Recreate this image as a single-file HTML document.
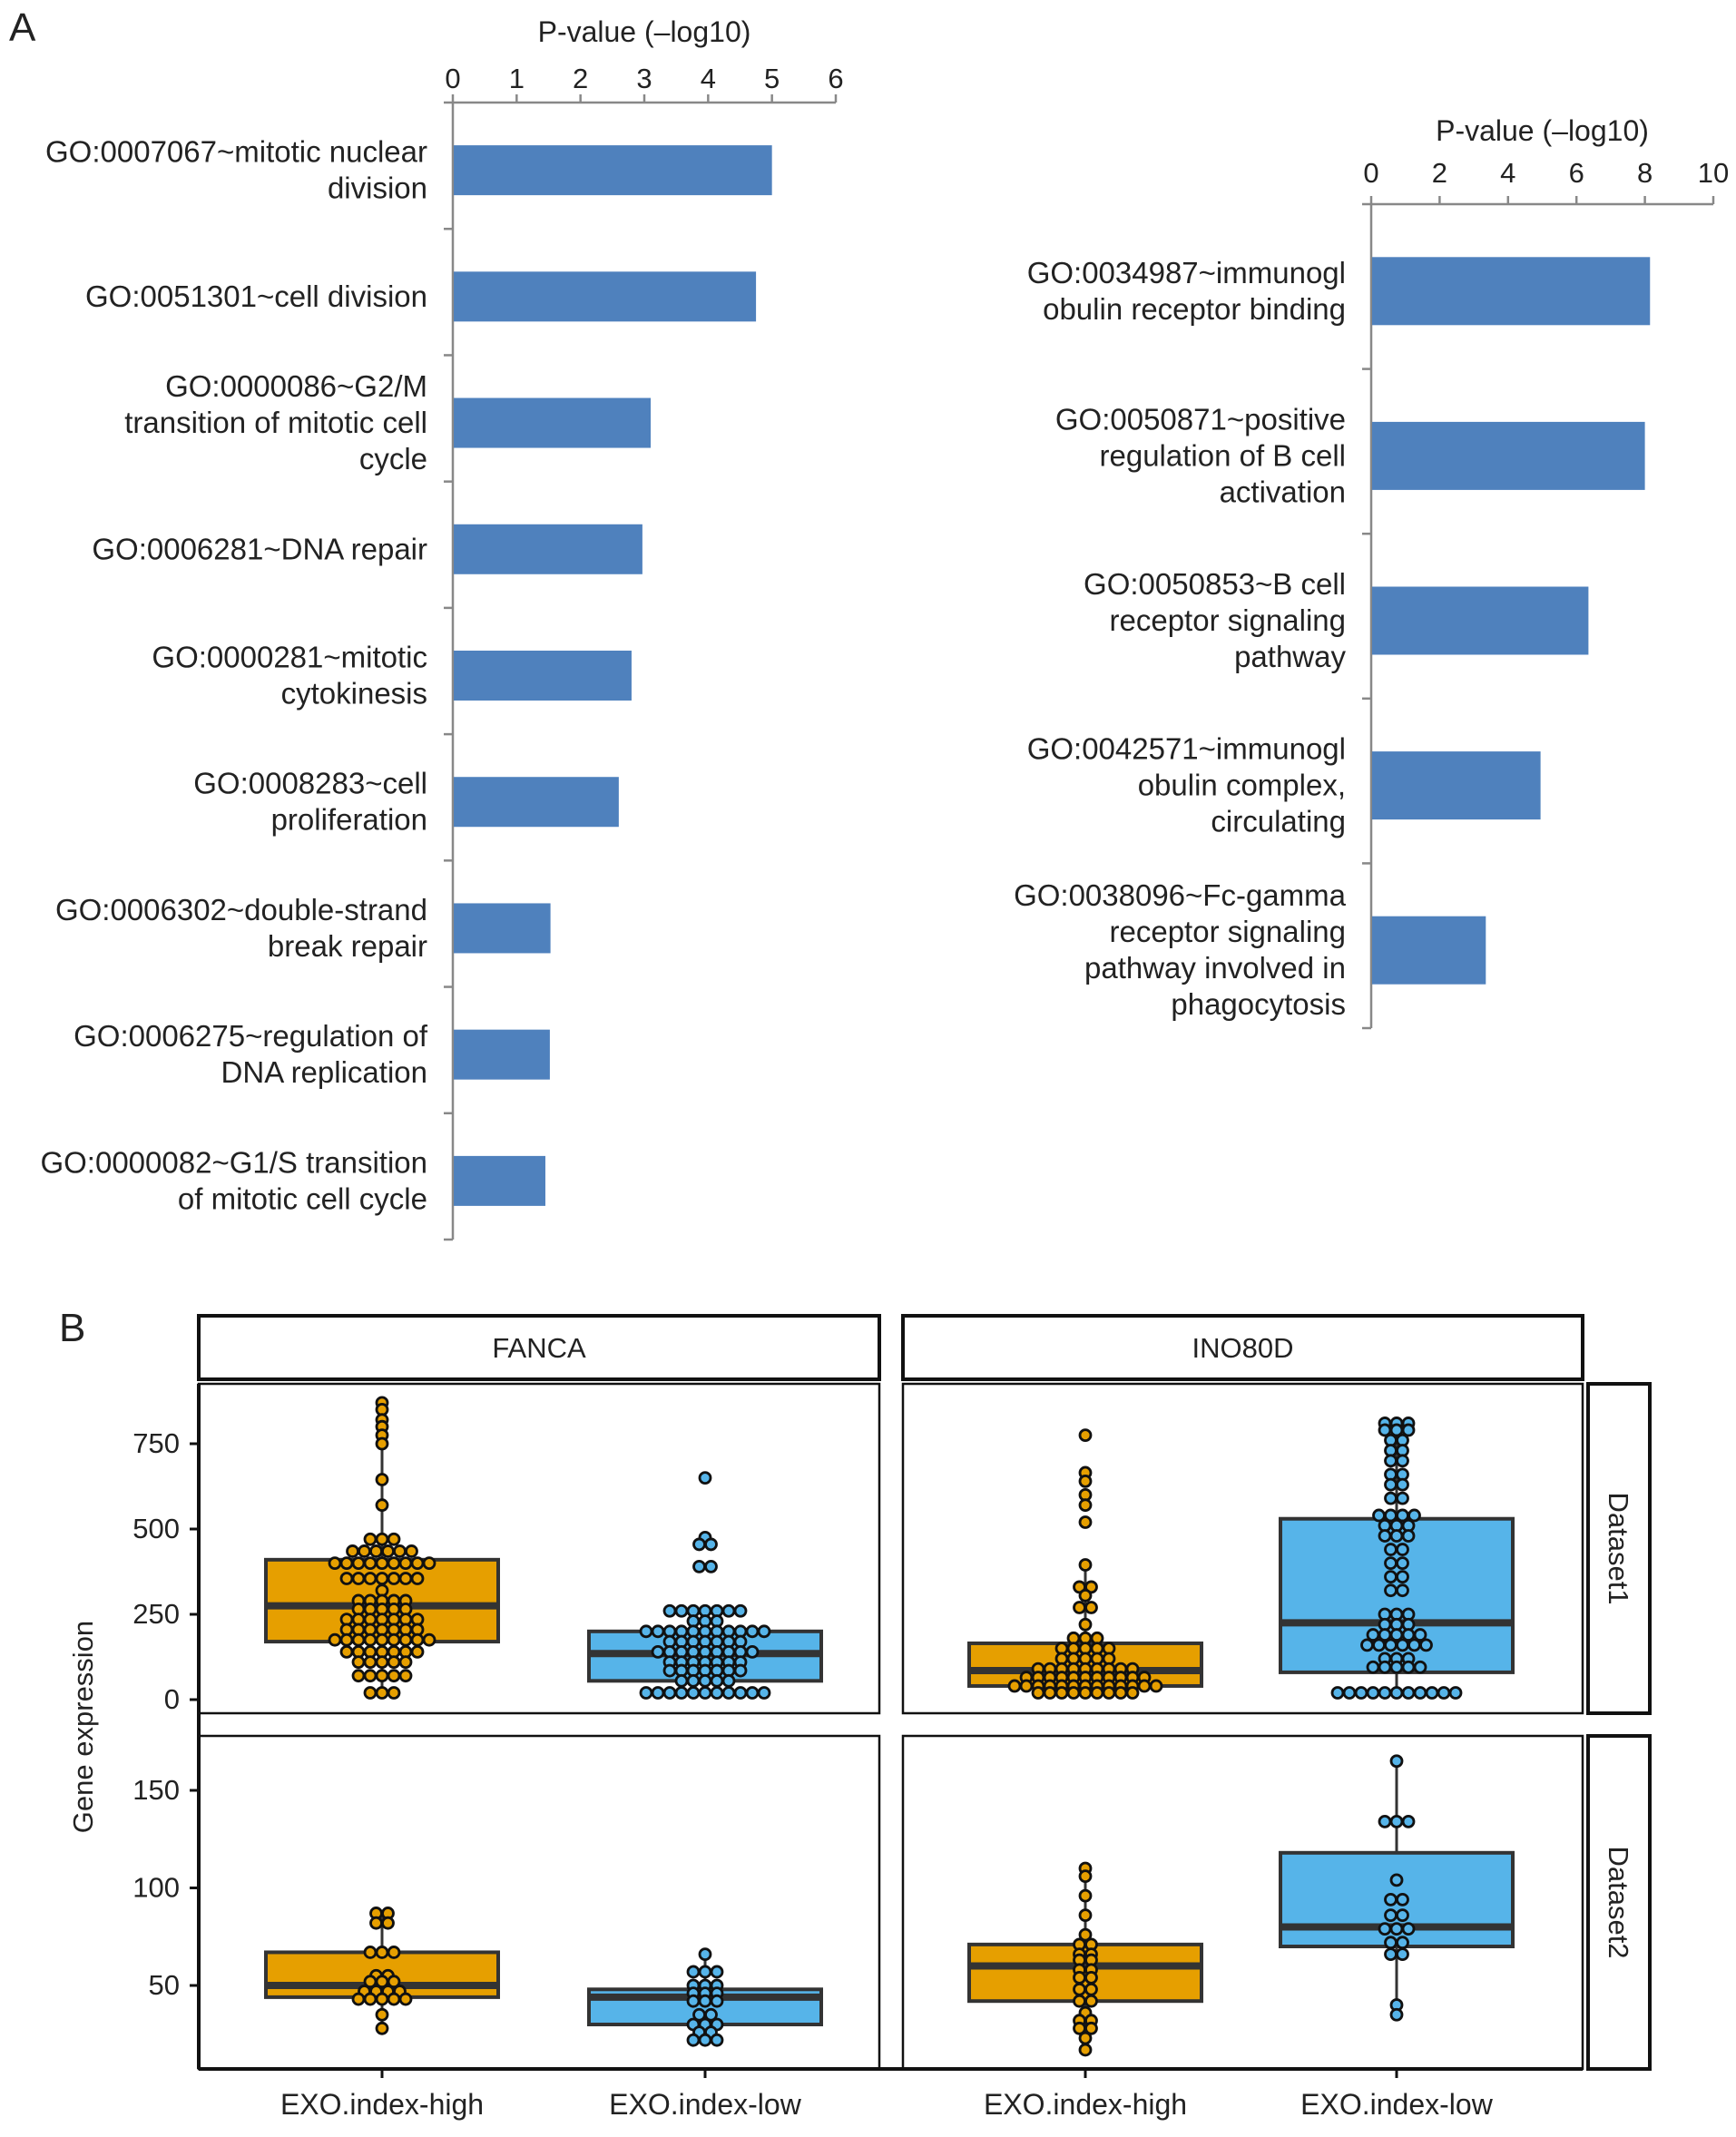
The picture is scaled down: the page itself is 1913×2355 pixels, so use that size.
<!DOCTYPE html>
<html><head><meta charset="utf-8"><style>
body{margin:0;background:#fff}
svg text{font-family:"Liberation Sans",sans-serif;fill:#222}
</style></head><body>
<svg id="s" width="1913" height="2350" viewBox="0 0 1913 2350" xmlns="http://www.w3.org/2000/svg">
<text x="10" y="45" font-size="44">A</text>
<text x="65" y="1478" font-size="44">B</text>
<g id="gA1"></g>
<g id="gA2"></g>
<g id="gB" transform="translate(0,8)"></g>
</svg>
<script>
const catsL=["GO:0007067~mitotic nuclear|division","GO:0051301~cell division","GO:0000086~G2/M|transition of mitotic cell|cycle","GO:0006281~DNA repair","GO:0000281~mitotic|cytokinesis","GO:0008283~cell|proliferation","GO:0006302~double-strand|break repair","GO:0006275~regulation of|DNA replication","GO:0000082~G1/S transition|of mitotic cell cycle"];
const valsL=[5.0,4.75,3.1,2.97,2.8,2.6,1.53,1.52,1.45];
const ticksL=[0,1,2,3,4,5,6];
const catsR=["GO:0034987~immunogl|obulin receptor binding","GO:0050871~positive|regulation of B cell|activation","GO:0050853~B cell|receptor signaling|pathway","GO:0042571~immunogl|obulin complex,|circulating","GO:0038096~Fc-gamma|receptor signaling|pathway involved in|phagocytosis"];
const valsR=[8.15,8.0,6.35,4.95,3.35];
const ticksR=[0,2,4,6,8,10];
// box plot data: [q1, median, q3, whiskerLow, whiskerHigh]
const boxFancaD1High=[170,275,410,15,870];
const boxFancaD1Low=[55,135,200,15,260];
const boxIno80dD1High=[40,85,165,15,395];
const boxIno80dD1Low=[80,225,530,15,810];
const boxFancaD2High=[44,50,67,28,87];
const boxFancaD2Low=[30,44,48,22,66];
const boxIno80dD2High=[42,60,71,17,110];
const boxIno80dD2Low=[70,80,118,35,165];
// dots: [value, count]
const dotsFancaD1High=[[870,1],[850,1],[820,1],[800,1],[775,1],[750,1],[645,1],[570,1],[470,3],[435,6],[400,9],[355,7],[320,1],[290,5],[265,5],[235,7],[205,7],[175,9],[140,7],[110,5],[70,5],[20,3]];
const dotsFancaD1Low=[[650,1],[475,1],[455,2],[390,2],[260,7],[230,3],[200,11],[170,7],[140,9],[110,7],[85,7],[55,5],[20,11]];
const dotsIno80dD1High=[[775,1],[665,1],[640,1],[600,1],[570,1],[520,1],[395,1],[330,2],[305,1],[270,2],[220,1],[180,3],[150,5],[120,5],[90,9],[65,11],[40,13],[20,9]];
const dotsIno80dD1Low=[[810,3],[790,3],[760,2],[730,2],[700,2],[660,2],[630,2],[590,2],[540,4],[510,3],[480,3],[440,2],[400,2],[360,2],[320,2],[250,3],[220,3],[190,5],[160,6],[120,3],[95,5],[20,11]];
const dotsFancaD2High=[[87,2],[82,2],[67,3],[55,2],[52,3],[47,4],[43,5],[35,1],[28,1]];
const dotsFancaD2Low=[[66,1],[57,3],[50,3],[46,3],[42,3],[35,2],[30,3],[26,2],[22,3]];
const dotsIno80dD2High=[[110,1],[106,1],[96,1],[86,1],[76,1],[71,2],[66,2],[63,2],[58,2],[54,2],[48,2],[42,2],[36,1],[32,2],[28,2],[23,1],[17,1]];
const dotsIno80dD2Low=[[165,1],[134,3],[104,1],[94,2],[86,2],[79,3],[72,2],[66,2],[40,1],[35,1]];
const ticksD1=[0,250,500,750];
const ticksD2=[50,100,150];

const NS="http://www.w3.org/2000/svg";
function el(p,t,a){const e=document.createElementNS(NS,t);for(const k in a)e.setAttribute(k,a[k]);p.appendChild(e);return e;}

function barChart(g,cats,vals,ticks,x0,x1,y0,y1,barH,titleY,tickY,nameP){
  const max=ticks[ticks.length-1];
  const sx=v=>x0+(x1-x0)*v/max;
  const band=(y1-y0)/cats.length;
  let ax=el(g,'line',{x1:x0,y1:y0,x2:x0,y2:y1,stroke:'#888','stroke-width':2.5});
  
  let xa=el(g,'line',{x1:x0-10,y1:y0,x2:x1,y2:y0,stroke:'#888','stroke-width':2.5});
  
  let tt=el(g,'text',{x:(x0+x1)/2,y:titleY,'font-size':32,'text-anchor':'middle'});tt.textContent='P-value (\u2013log10)';
  
  ticks.forEach(t=>{el(g,'line',{x1:sx(t),y1:y0,x2:sx(t),y2:y0-9,stroke:'#888','stroke-width':2.5});
    const tx=el(g,'text',{x:sx(t),y:tickY,'font-size':31,'text-anchor':'middle'});tx.textContent=t;
    });
  for(let i=1;i<=cats.length;i++)el(g,'line',{x1:x0-10,y1:y0+band*i,x2:x0,y2:y0+band*i,stroke:'#888','stroke-width':2.5});
  cats.forEach((c,i)=>{const cy=y0+band*(i+0.5)+5;
    const r=el(g,'rect',{x:x0+1,y:cy-barH/2,width:sx(vals[i])-x0-1,height:barH,fill:'#4f81bd'});
    
    const lines=c.split('|');const lh=40;
    lines.forEach((l,j)=>{const t=el(g,'text',{x:x0-28,y:cy-(lines.length-1)*lh/2+j*lh+11,'font-size':33,'text-anchor':'end'});t.textContent=l;
      });
  });
}
barChart(document.getElementById('gA1'),catsL,valsL,ticksL,499,921,113,1366,55,46,97,'left');
barChart(document.getElementById('gA2'),catsR,valsR,ticksR,1511,1888,225,1133,75,155,201,'right');

const gB=document.getElementById('gB');
const rows=[{y0:1517,y1:1880,sy:v=>1865-(1865-1583)*v/750,ticks:ticksD1,lab:'Dataset1'},
            {y0:1905,y1:2272,sy:v=>2180-(2180-1965)*(v-50)/100,ticks:ticksD2,lab:'Dataset2'}];
const cols=[{x0:219,x1:969,lab:'FANCA',xs:[421,777]},{x0:995,x1:1744,lab:'INO80D',xs:[1196,1539]}];
const boxes=[[[boxFancaD1High,boxFancaD1Low],[boxIno80dD1High,boxIno80dD1Low]],[[boxFancaD2High,boxFancaD2Low],[boxIno80dD2High,boxIno80dD2Low]]];
const dots=[[[dotsFancaD1High,dotsFancaD1Low],[dotsIno80dD1High,dotsIno80dD1Low]],[[dotsFancaD2High,dotsFancaD2Low],[dotsIno80dD2High,dotsIno80dD2Low]]];
const fills=['#e69f00','#56b4e9'];
cols.forEach((c,ci)=>{
  el(gB,'rect',{x:c.x0,y:1442,width:c.x1-c.x0,height:70,fill:'#fff',stroke:'#111','stroke-width':4});
  const t=el(gB,'text',{x:(c.x0+c.x1)/2,y:1488,'font-size':31,'text-anchor':'middle'});t.textContent=c.lab;
  
  ['EXO.index-high','EXO.index-low'].forEach((l,k)=>{
    el(gB,'line',{x1:c.xs[k],y1:2272,x2:c.xs[k],y2:2282,stroke:'#111','stroke-width':3});
    const tx=el(gB,'text',{x:c.xs[k],y:2322,'font-size':32,'text-anchor':'middle'});tx.textContent=l;
    });
});
rows.forEach((r,ri)=>{
  el(gB,'rect',{x:1750,y:r.y0,width:68,height:r.y1-r.y0,fill:'#fff',stroke:'#111','stroke-width':4});
  const st=el(gB,'text',{x:0,y:0,'font-size':31,'text-anchor':'middle',transform:`translate(1773,${(r.y0+r.y1)/2}) rotate(90)`});st.textContent=r.lab;
  
  r.ticks.forEach(t=>{el(gB,'line',{x1:209,y1:r.sy(t),x2:219,y2:r.sy(t),stroke:'#111','stroke-width':3});
    const tx=el(gB,'text',{x:198,y:r.sy(t)+10,'font-size':31,'text-anchor':'end'});tx.textContent=t;
    });
  cols.forEach((c,ci)=>{
    const p=el(gB,'rect',{x:c.x0,y:r.y0,width:c.x1-c.x0,height:r.y1-r.y0,fill:'#fff',stroke:'#111','stroke-width':2.5});
    
    [0,1].forEach(k=>{const b=boxes[ri][ci][k],x=c.xs[k],w=256;
      el(gB,'line',{x1:x,y1:r.sy(b[3]),x2:x,y2:r.sy(b[4]),stroke:'#333','stroke-width':3});
      const bx=el(gB,'rect',{x:x-w/2,y:r.sy(b[2]),width:w,height:r.sy(b[0])-r.sy(b[2]),fill:fills[k],stroke:'#333','stroke-width':4});
      
      el(gB,'line',{x1:x-w/2,y1:r.sy(b[1]),x2:x+w/2,y2:r.sy(b[1]),stroke:'#333','stroke-width':8});
      dots[ri][ci][k].forEach(d=>{for(let n=0;n<d[1];n++){const dx=(n-(d[1]-1)/2)*13;
        const ci2=el(gB,'circle',{cx:x+dx,cy:r.sy(d[0]),r:6,fill:fills[k],stroke:'#111','stroke-width':2.8});
        }});
    });
  });
});
el(gB,'line',{x1:219,y1:1517,x2:219,y2:2272,stroke:'#111','stroke-width':4});
el(gB,'line',{x1:219,y1:2272,x2:1744,y2:2272,stroke:'#111','stroke-width':4});
const yt=el(gB,'text',{x:0,y:0,'font-size':31,'text-anchor':'middle',transform:'translate(102,1895) rotate(-90)'});yt.textContent='Gene expression';

</script>
</body></html>
